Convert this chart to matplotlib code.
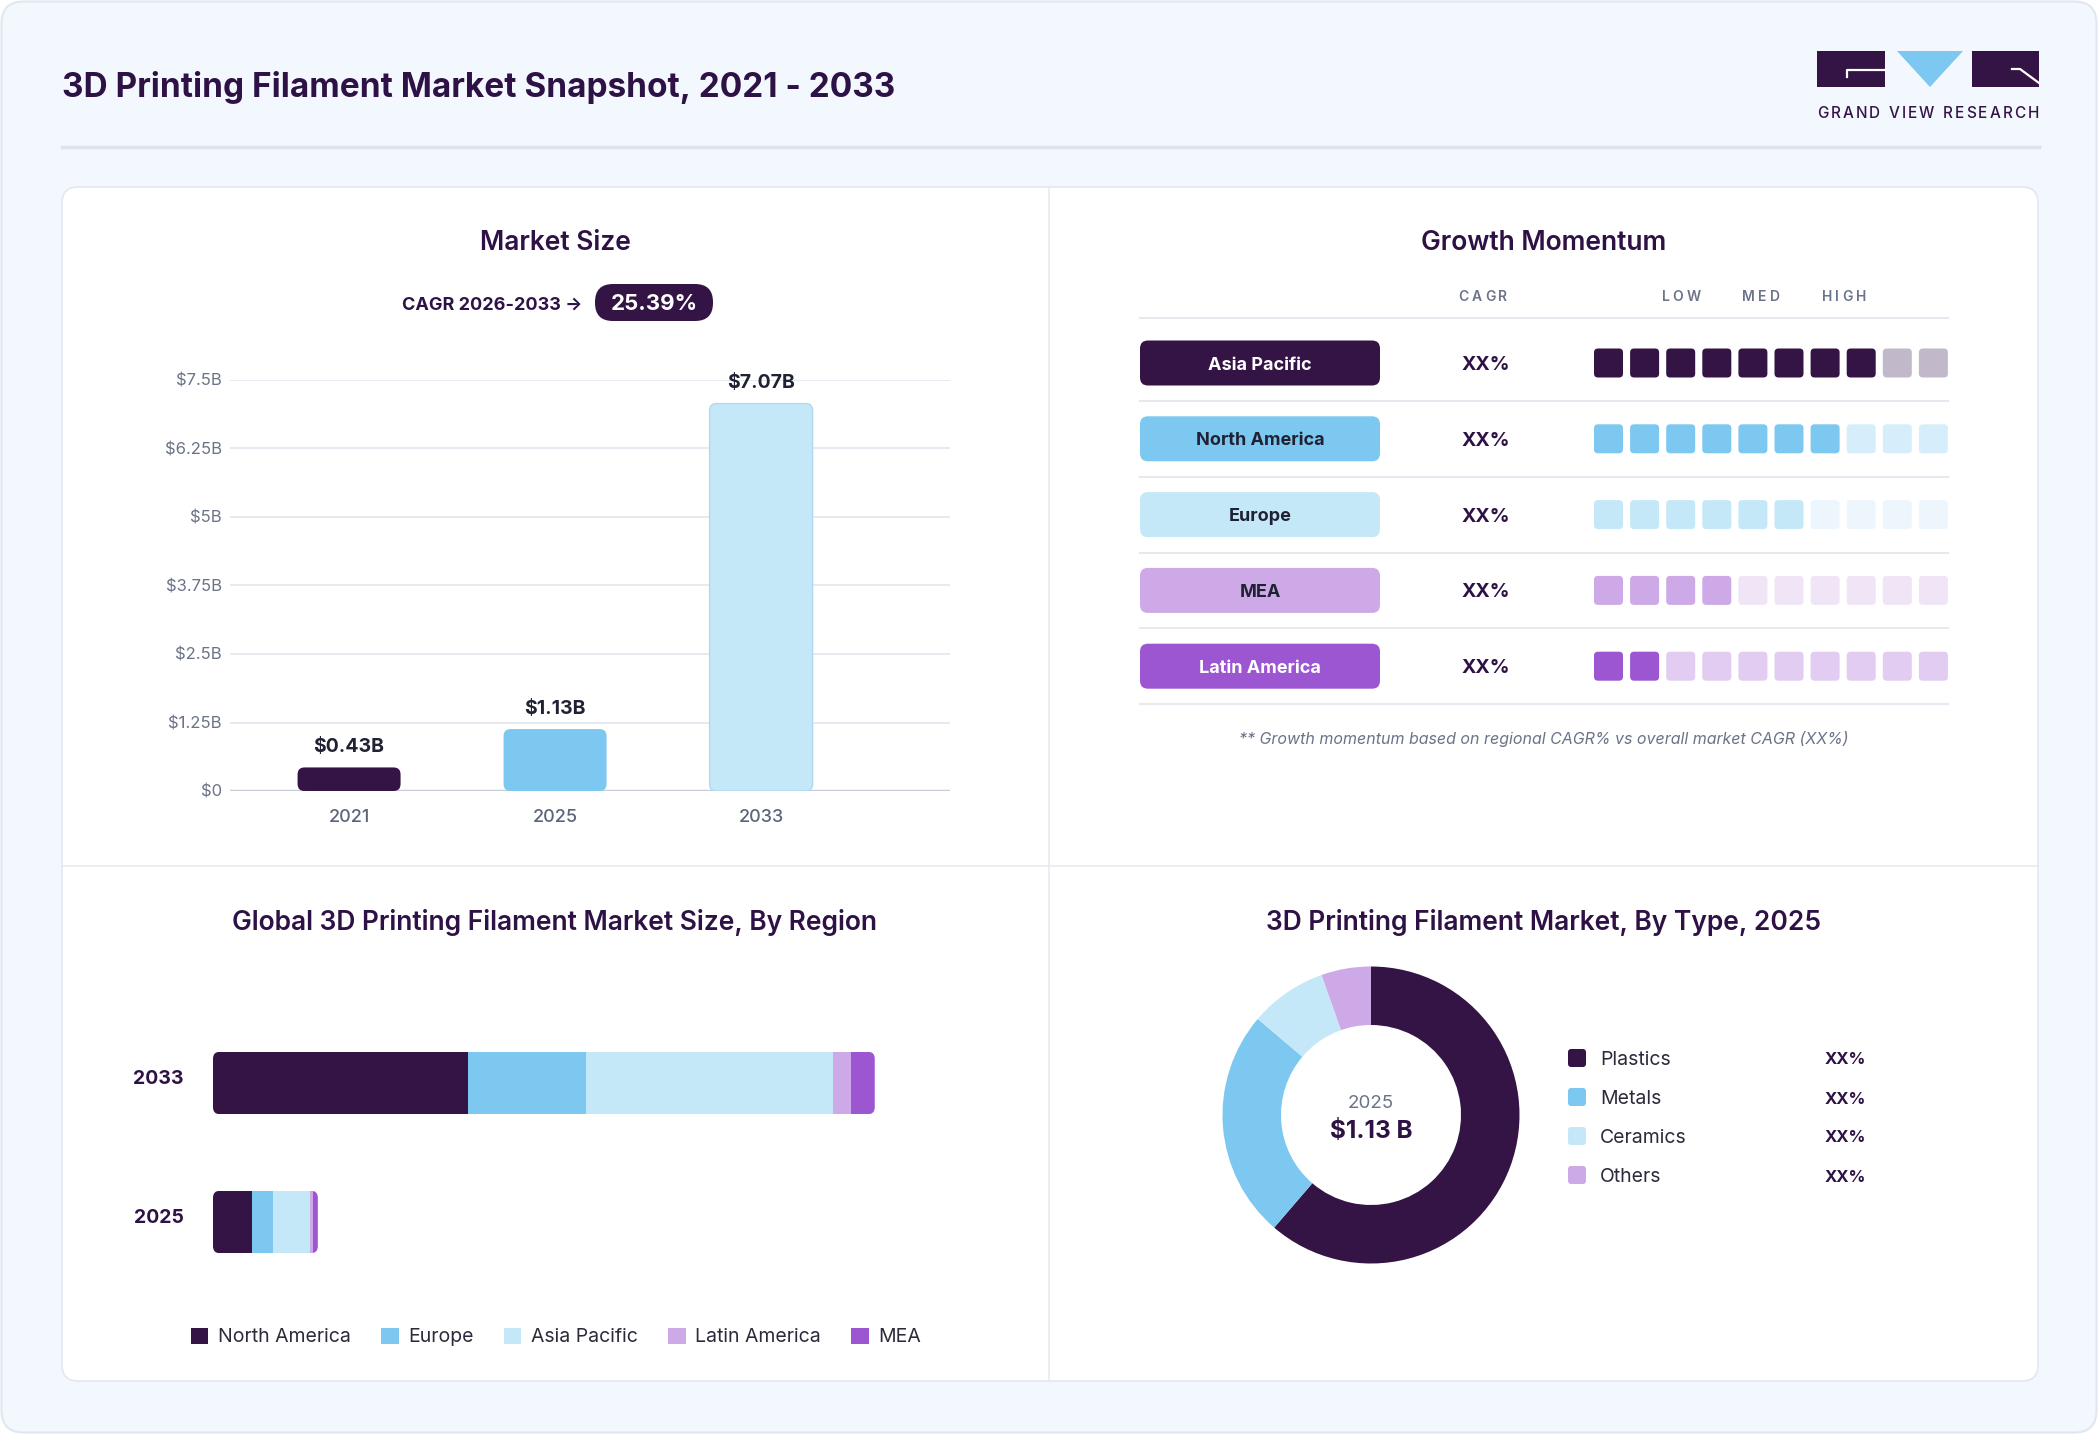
"""3D printing filament market snapshot dashboard."""

import matplotlib
matplotlib.use("Agg")
import matplotlib.pyplot as plt
import matplotlib.transforms as mtransforms
from matplotlib.patches import FancyBboxPatch, Patch, Polygon

plt.rcParams['font.family'] = ['Inter', 'DejaVu Sans']

W, H = 2098, 1434

DARK = '#331445'
BLUE = '#7DC8F0'
LIGHT_BLUE = '#C5E8F8'
LAVENDER = '#CDA9E7'
PURPLE = '#9D56D2'
TITLE_C = '#2E1245'
GRAY = '#6B7387'
LINE_C = '#E6EAF0'

# Market size
years = ['2021', '2025', '2033']
market_size = [0.43, 1.13, 7.07]
year_colors = [DARK, BLUE, LIGHT_BLUE]
y_ticks = [0, 1.25, 2.5, 3.75, 5, 6.25, 7.5]
y_tick_labels = ['$0', '$1.25B', '$2.5B', '$3.75B', '$5B', '$6.25B', '$7.5B']
cagr_label = 'CAGR 2026-2033 \u2192'
cagr_value = '25.39%'

# Growth momentum
regions = ['Asia Pacific', 'North America', 'Europe', 'MEA', 'Latin America']
region_cagr = ['XX%', 'XX%', 'XX%', 'XX%', 'XX%']
momentum = [8, 7, 6, 4, 2]
pill_colors = [DARK, BLUE, LIGHT_BLUE, LAVENDER, PURPLE]
pill_text = ['white', '#1F2233', '#1F2233', '#1F2233', 'white']
empty_colors = ['#C1B9C9', '#D6EEFB', '#EEF6FD', '#F0E4F7', '#E2CCF1']

# Market by region (USD B)
bar_years = ['2025', '2033']
region_order = ['North America', 'Europe', 'Asia Pacific', 'Latin America', 'MEA']
region_colors = [DARK, BLUE, LIGHT_BLUE, LAVENDER, PURPLE]
region_values = {
    '2025': [0.42, 0.22, 0.40, 0.03, 0.05],
    '2033': [2.72, 1.27, 2.63, 0.20, 0.25],
}

# Market by type, 2025 (%)
types = ['Plastics', 'Metals', 'Ceramics', 'Others']
type_share = [61.3, 24.9, 8.4, 5.4]
type_colors = [DARK, BLUE, LIGHT_BLUE, LAVENDER]
type_labels = ['XX%', 'XX%', 'XX%', 'XX%']


fig = plt.figure(figsize=(W / 100, H / 100), dpi=100)
fig.patch.set_facecolor('white')
bg = fig.add_axes([0, 0, 1, 1])
bg.set_xlim(0, W)
bg.set_ylim(H, 0)
bg.axis('off')
renderer = fig.canvas.get_renderer()

DY = 3  # text sits a touch low in the reference


def txt(x, y, s, **kw):
    kw.setdefault('va', 'center')
    return bg.text(x, y + DY, s, **kw)


def px_axes(x0, y0, x1, y1):
    return fig.add_axes([x0 / W, 1 - y1 / H, (x1 - x0) / W, (y1 - y0) / H])


def rbox(x, y, w, h, r, fc, ec='none', lw=0, ax=bg, **kw):
    p = FancyBboxPatch((x, y), w, h, boxstyle=f"round,pad=0,rounding_size={r}",
                       fc=fc, ec=ec, lw=lw, **kw)
    ax.add_patch(p)
    return p


def spaced(x, y, s, size, color, weight='normal', track=3, ha='center', width=None):
    widths = []
    for ch in s:
        if ch == ' ':
            widths.append(size * 100 / 72 * 0.28)
        else:
            t = bg.text(0, 0, ch, fontsize=size, weight=weight)
            widths.append(t.get_window_extent(renderer).width)
            t.remove()
    if width is not None:
        track = (width - sum(widths)) / (len(s) - 1)
    total = sum(widths) + track * (len(s) - 1)
    cx = x - total / 2 if ha == 'center' else x
    for ch, w in zip(s, widths):
        if ch != ' ':
            txt(cx, y, ch, fontsize=size, weight=weight, color=color, ha='left')
        cx += w + track


# frame
rbox(1.5, 1.5, W - 3, H - 3, 22, '#F2F8FE', ec='#E1E7EF', lw=1.5)
txt(62, 85, '3D Printing Filament Market Snapshot, 2021 - 2033', fontsize=24,
    weight='bold', color=TITLE_C)
bg.plot([62, 2039], [147, 147], color='#DDE2EC', lw=2.5)

# logo
bg.add_patch(Polygon([[1817, 51], [1885, 51], [1885, 87], [1817, 87]], fc=DARK))
bg.add_patch(Polygon([[1897, 51], [1963, 51], [1930, 87]], fc=BLUE))
bg.add_patch(Polygon([[1972, 51], [2039, 51], [2039, 87], [1972, 87]], fc=DARK))
bg.plot([1885, 1847, 1847], [70, 70, 77], color='white', lw=1.6)
bg.plot([2012, 2020, 2039], [69, 69, 83], color='white', lw=1.6)
spaced(1817, 110, 'GRAND VIEW RESEARCH', 11, DARK, weight='medium', ha='left', width=222)

# card
rbox(62, 187, 1976, 1194, 16, 'white', ec='#E3E8F0', lw=1.2)
bg.plot([1049, 1049], [188, 1380], color=LINE_C, lw=1.2)
bg.plot([63, 2037], [866, 866], color=LINE_C, lw=1.2)

# ---- Market size
txt(555, 240, 'Market Size', fontsize=19, weight='semibold', color=TITLE_C, ha='center')
txt(582, 302, cagr_label, fontsize=13, weight='bold', color=TITLE_C, ha='right')
rbox(595, 284, 118, 37, 18, DARK)
txt(654, 301, cagr_value, fontsize=16, weight='bold', color='white', ha='center')

ax = px_axes(230, 380, 950, 791)
ax.set_xlim(-0.578, 2.917)
ax.set_ylim(0, 7.5)
for s in ax.spines.values():
    s.set_visible(False)
ax.set_yticks(y_ticks, y_tick_labels)
ax.set_xticks(range(len(years)), years)
ax.tick_params(axis='y', length=0, pad=6, labelsize=12, labelcolor=GRAY)
ax.tick_params(axis='x', length=0, pad=13, labelsize=13, labelcolor='#5B6478')
for lab in ax.get_xticklabels():
    lab.set_fontweight('medium')
ax.grid(axis='y', color='#E5E8EF', lw=1.3)
ax.set_axisbelow(True)
ax.axhline(0, color='#C8CDD8', lw=2.5, zorder=1)
xpp = 3.495 / 720
ypp = 7.5 / 411
for i, (v, c) in enumerate(zip(market_size, year_colors)):
    ec = '#AED9F0' if c == LIGHT_BLUE else 'none'
    rbox(i - 0.25, 0, 0.5, v, 7 * xpp, c, ec=ec, lw=1, ax=ax,
         mutation_aspect=ypp / xpp, zorder=2)
    ax.annotate(f'${v:.2f}B', (i, v), xytext=(0, 14.5), textcoords='offset points',
                ha='center', va='center', fontsize=14, weight='bold', color='#1F2233')

# ---- Growth momentum
txt(1544, 240, 'Growth Momentum', fontsize=19, weight='semibold', color=TITLE_C, ha='center')
for lab, x in zip(['CAGR', 'LOW', 'MED', 'HIGH'], [1483, 1681, 1761, 1844]):
    spaced(x, 294, lab, 10, GRAY, weight='semibold', track=3)
bg.plot([1140, 1948], [318, 318], color=LINE_C, lw=1.5)
for k, name in enumerate(regions):
    yc = 363 + k * 75.8
    rbox(1140, yc - 22.5, 240, 45, 8, pill_colors[k])
    txt(1260, yc - 1, name, fontsize=13, weight='bold', color=pill_text[k], ha='center')
    txt(1486, yc - 1, region_cagr[k], fontsize=14, weight='bold', color=TITLE_C, ha='center')
    for j in range(10):
        c = pill_colors[k] if j < momentum[k] else empty_colors[k]
        rbox(1594 + j * 36.1, yc - 14.5, 29, 29, 4, c)
    bg.plot([1140, 1948], [yc + 38, yc + 38], color=LINE_C, lw=1.5)
txt(1544, 736, '** Growth momentum based on regional CAGR% vs overall market CAGR (XX%)',
    fontsize=11.5, style='italic', color=GRAY, ha='center')

# ---- Market by region
txt(555, 919, 'Global 3D Printing Filament Market Size, By Region', fontsize=19,
    weight='semibold', color=TITLE_C, ha='center')
axr = px_axes(213, 1013.5, 980, 1291.5)
axr.set_xlim(0, 767 / 93.6)
axr.set_ylim(-0.5, 1.5)
for s in axr.spines.values():
    s.set_visible(False)
axr.set_xticks([])
xpp_r = (767 / 93.6) / 767
ypp_r = 2 / 278
for yi, yr in enumerate(bar_years):
    vals = region_values[yr]
    clip = FancyBboxPatch((0, yi - 0.225), sum(vals), 0.45,
                          boxstyle=f"round,pad=0,rounding_size={7 * xpp_r}",
                          mutation_aspect=ypp_r / xpp_r, transform=axr.transData)
    left = 0
    for v, c in zip(vals, region_colors):
        b = axr.barh(yi, v, left=left, height=0.45, color=c, lw=0)
        b[0].set_clip_path(clip)
        left += v
axr.set_yticks(range(len(bar_years)), bar_years)
axr.tick_params(axis='y', length=0, pad=21, labelsize=14, labelcolor=TITLE_C)
lift = mtransforms.ScaledTranslation(0, 4.5 / 72, fig.dpi_scale_trans)
for lab in axr.get_yticklabels():
    lab.set_fontweight('bold')
    lab.set_transform(lab.get_transform() + lift)
handles = [Patch(fc=c, ec='none') for c in region_colors]
fig.legend(handles, region_order, loc='center', bbox_to_anchor=(556 / W, 1 - 1337 / H),
           ncol=5, frameon=False, fontsize=14, handlelength=0.9, handleheight=0.9,
           handletextpad=0.5, columnspacing=1.55, labelcolor='#2B2B3B')

# ---- Market by type
txt(1544, 919, '3D Printing Filament Market, By Type, 2025', fontsize=19,
    weight='semibold', color=TITLE_C, ha='center')
r_out = 148.5
axp = px_axes(1371 - r_out * 1.02, 1115 - r_out * 1.02, 1371 + r_out * 1.02, 1115 + r_out * 1.02)
axp.pie(type_share, colors=type_colors, startangle=90, counterclock=False,
        wedgeprops=dict(width=1 - 90 / r_out, edgecolor='none'))
axp.set_xlim(-1.02, 1.02)
axp.set_ylim(-1.02, 1.02)
txt(1371, 1101, '2025', fontsize=13.5, color=GRAY, ha='center')
txt(1371, 1129, '$1.13 B', fontsize=17.5, weight='bold', color=TITLE_C, ha='center')
for k, (t, c) in enumerate(zip(types, type_colors)):
    yc = 1058 + k * 39
    rbox(1568, yc - 9, 18, 18, 3, c)
    txt(1600, yc - 1, t, fontsize=14, color='#2B2B3B', ha='left')
    txt(1845, yc - 1, type_labels[k], fontsize=12, weight='bold', color=TITLE_C, ha='center')

fig.savefig('out.png', dpi=100)
